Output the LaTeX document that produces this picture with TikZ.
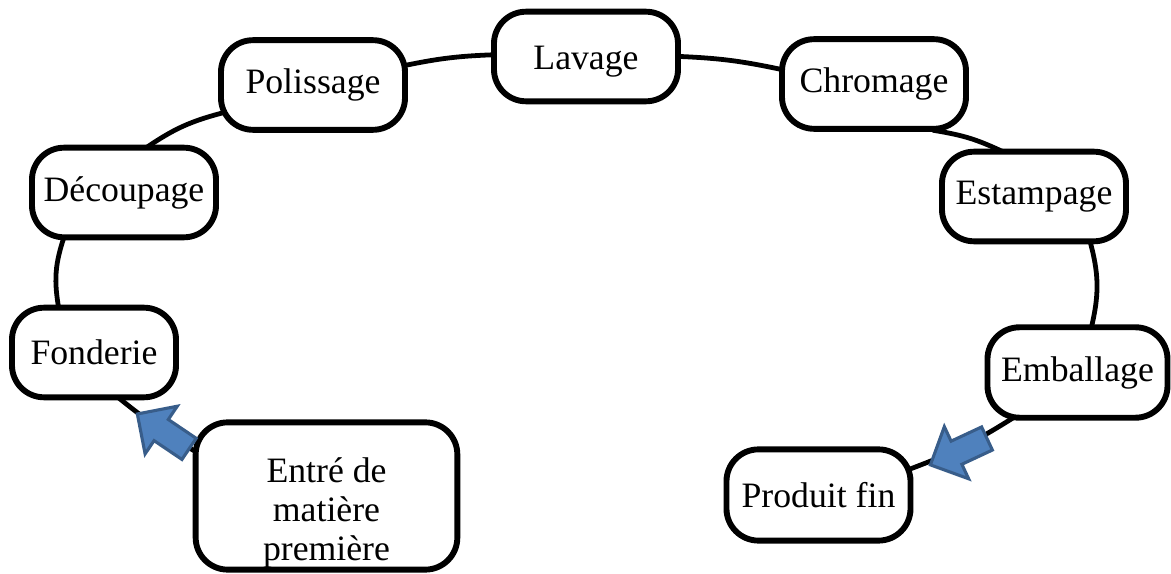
\documentclass[tikz,border=0pt]{standalone}
\usepackage{fontspec}
\setmainfont{Liberation Serif}
\usepackage{tikz}
\usetikzlibrary{shapes.arrows,backgrounds}
\definecolor{arrowfill}{RGB}{79,129,189}
\definecolor{arrowedge}{RGB}{56,93,138}

\begin{document}
\begin{tikzpicture}[x=0.0125cm,y=0.0125cm,
  font=\fontsize{12.7}{13.8}\selectfont,
  stepbox/.style={draw,line width=2.1pt,rounded corners=0.4cm,fill=white,
    minimum width=2.3cm,minimum height=1.12cm,inner sep=2pt,align=center},
  link/.style={line width=1.7pt,shorten <=-0.12cm,shorten >=-0.12cm},
  blockarrow/.style={single arrow,draw=arrowedge,fill=arrowfill,line width=1.1pt,
    minimum height=0.78cm,inner xsep=0pt,inner ysep=0.14cm,
    single arrow head extend=0.2cm}]
\useasboundingbox (0,0) rectangle (1171,574);
% process steps round the loop
\node[stepbox] (lavage) at (586,517.5) {\raisebox{-0.06cm}[\height][\depth]{Lavage}};
\node[stepbox] (polissage) at (313,489) {Polissage};
\node[stepbox] (chromage) at (874,490) {Chromage};
\node[stepbox] (decoupage) at (124,381.5) {Découpage};
\node[stepbox] (estampage) at (1034,377.5) {Estampage};
\node[stepbox,minimum width=2.05cm] (fonderie) at (94,221.5) {Fonderie};
\node[stepbox,minimum width=2.25cm,minimum height=1.13cm] (emballage) at (1077.5,201.5) {Emballage};
\node[stepbox,minimum width=3.27cm,minimum height=1.84cm] (entree) at (326.5,78)
  {\raisebox{-0.22cm}[\height][\depth]{\begin{tabular}{@{}c@{}}Entré de\\matière\\première\end{tabular}}};
\node[stepbox,minimum height=1.14cm] (produit) at (818.5,79) {Produit fin};
% the loop itself
\begin{scope}[on background layer]
\draw[link] (entree.161) to[bend left=4] (fonderie.300);
\draw[link] (fonderie.127) to[bend left=15] (decoupage.218);
\draw[link] (decoupage.61) to[bend left=10] (polissage.197);
\draw[link] (polissage.12) to[bend left=5] (lavage.179);
\draw[link] (lavage.0) to[bend left=5] (chromage.171);
\draw[link] (chromage.325) to[bend left=8] (estampage.128);
\draw[link] (estampage.320) to[bend left=15] (emballage.73);
\draw[link] (emballage.215) to[bend left=6] (produit.16);
\end{scope}
% in and out
\node[blockarrow,rotate=146] (inarrow) at (168.5,139) {};
\node[blockarrow,rotate=205] (outarrow) at (964.5,125) {};
\end{tikzpicture}
\end{document}
